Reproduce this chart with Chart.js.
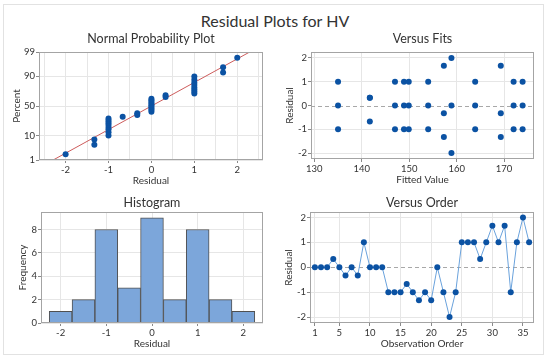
<!DOCTYPE html>
<html>
<head>
<meta charset="utf-8">
<script src="https://cdn.jsdelivr.net/npm/chart.js@4.4.1/dist/chart.umd.min.js"></script>
<style>
  body { margin: 0; background: #fff; font-family: Lato, sans-serif; }
  #wrap { position: relative; width: 550px; height: 361px; }
  #frame { position: absolute; left: 3px; top: 4px; width: 539px; height: 349px; border: 1px solid #e2e2e2; }
  #main { position: absolute; left: 0; top: 11px; width: 550px; text-align: center; font-size: 16px; line-height: 20px; color: #333; }
  canvas { position: absolute; }
</style>
</head>
<body>
<div id="wrap">
  <div id="frame"></div>
  <div id="main">Residual Plots for HV</div>
  <canvas id="c1" width="275" height="163" style="left:0;top:28px"></canvas>
  <canvas id="c2" width="275" height="162" style="left:275px;top:28px"></canvas>
  <canvas id="c3" width="275" height="166" style="left:0;top:188px"></canvas>
  <canvas id="c4" width="275" height="166" style="left:275px;top:188px"></canvas>
</div>
<script>
// residuals in observation order
const obsOrder = [1,2,3,4,5,6,7,8,9,10,11,12,13,14,15,16,17,18,19,20,21,22,23,24,25,26,27,28,29,30,31,32,33,34,35,36];
const orderResid = [0,0,0,0.33,0,-0.33,0,-0.33,1,0,0,0,-1,-1,-1,-0.67,-1,-1.33,-1,-1.33,0,-1,-2,-1,1,1,1,0.33,1,1.67,1,1.67,-1,1,2,1];

// versus fits
const fitValues = [135,135,135, 141.7,141.7,141.7, 147,147,147, 148.9,148.9,148.9, 149.9,149.9,149.9, 154,154,154,
                   157.3,157.3,157.3, 158.9,158.9,158.9, 163.9,163.9,163.9, 169.3,169.3,169.3, 172,172,172, 173.9,173.9,173.9];
const fitResid = [1,0,-1, 0.33,0.33,-0.67, 1,0,-1, 1,0,-1, 1,0,-1, 1,0,-1,
                  1.67,-0.33,-1.33, 2,0,-2, 1,0,-1, 1.67,-0.33,-1.33, 1,0,-1, 1,0,-1];

// normal probability plot (sorted residuals and percent)
const nppResid = [-2,-1.33,-1.33,-1,-1,-1,-1,-1,-1,-1,-1,-0.67,-0.33,-0.33,0,0,0,0,0,0,0,0,0,0.33,0.33,1,1,1,1,1,1,1,1,1.67,1.67,2];
const nppPercent = [1.9,4.7,7.4,10.2,12.9,15.7,18.4,21.2,23.9,26.6,29.4,32.1,34.9,37.6,40.4,43.1,45.9,48.6,
                    51.4,54.1,56.9,59.6,62.4,65.1,67.9,70.6,73.4,76.1,78.8,81.6,84.3,87.1,89.8,92.6,95.3,98.1];
const nppLineX = [-2.29, 2.29];
const nppLinePct = [1, 99];
const pctTicks = [1, 10, 50, 90, 99];

// histogram
const histCenters = [-2,-1.5,-1,-0.5,0,0.5,1,1.5,2];
const histFreq = [1,2,8,3,9,2,8,2,1];

const nppXTicks = [-2.5,-2,-1.5,-1,-0.5,0,0.5,1,1.5,2,2.5];
const fitXTicks = [130,140,150,160,170];
const residTicks = [-2,-1,0,1,2];
const histXTicks = [-2,-1,0,1,2];
const histYTicks = [0,2,4,6,8];
const orderXTicks = [1,5,10,15,20,25,30,35];

const dotBlue = '#0b52a3';
const txt = '#333';
const gridCol = '#e6e6e6';
const FONT = "Lato, sans-serif";

function probit(p) {
  const a=[-3.969683028665376e+01,2.209460984245205e+02,-2.759285104469687e+02,1.383577518672690e+02,-3.066479806614716e+01,2.506628277459239e+00];
  const b=[-5.447609879822406e+01,1.615858368580409e+02,-1.556989798598866e+02,6.680131188771972e+01,-1.328068155288572e+01];
  const c=[-7.784894002430293e-03,-3.223964580411365e-01,-2.400758277161838e+00,-2.549732539343734e+00,4.374664141464968e+00,2.938163982698783e+00];
  const d=[7.784695709041462e-03,3.224671290700398e-01,2.445134137142996e+00,3.754408661907416e+00];
  const pl = 0.02425;
  let q, r;
  if (p < pl) {
    q = Math.sqrt(-2*Math.log(p));
    return (((((c[0]*q+c[1])*q+c[2])*q+c[3])*q+c[4])*q+c[5])/((((d[0]*q+d[1])*q+d[2])*q+d[3])*q+1);
  }
  if (p > 1 - pl) {
    q = Math.sqrt(-2*Math.log(1-p));
    return -(((((c[0]*q+c[1])*q+c[2])*q+c[3])*q+c[4])*q+c[5])/((((d[0]*q+d[1])*q+d[2])*q+d[3])*q+1);
  }
  q = p - 0.5; r = q*q;
  return (((((a[0]*r+a[1])*r+a[2])*r+a[3])*r+a[4])*r+a[5])*q/(((((b[0]*r+b[1])*r+b[2])*r+b[3])*r+b[4])*r+1);
}
const z = pct => probit(pct / 100);

// plot box + dashed zero line
const boxPlugin = {
  id: 'box',
  beforeDatasetsDraw(chart, args, opts) {
    if (!opts.zeroLine) return;
    const ca = chart.chartArea, y = chart.scales.y.getPixelForValue(0);
    const g = chart.ctx;
    g.save();
    g.strokeStyle = '#a8a8a8';
    g.lineWidth = 1;
    g.setLineDash([4, 3]);
    g.beginPath();
    g.moveTo(ca.left, Math.round(y) + 0.5);
    g.lineTo(ca.right, Math.round(y) + 0.5);
    g.stroke();
    g.restore();
  },
  afterDraw(chart) {
    const ca = chart.chartArea, g = chart.ctx;
    g.save();
    g.strokeStyle = '#a4a4a4';
    g.lineWidth = 1;
    g.strokeRect(Math.round(ca.left) + 0.5, Math.round(ca.top) + 0.5, Math.round(ca.right - ca.left) - 1, Math.round(ca.bottom - ca.top) - 1);
    g.restore();
  }
};

function axis(opts) {
  return {
    type: 'linear',
    min: opts.min, max: opts.max,
    offset: false,
    border: { display: false },
    grid: {
      offset: false,
      color: opts.gridColor || gridCol,
      tickLength: 3,
      tickColor: ctx => (ctx.tick && ctx.tick.label === '') ? 'rgba(0,0,0,0)' : '#8a8a8a'
    },
    ticks: {
      color: txt, font: { family: FONT, size: 9.5 },
      padding: 1, autoSkip: false, maxRotation: 0,
      callback: opts.label
    },
    title: { display: true, text: opts.title, color: txt, font: { family: FONT, size: 10 }, padding: opts.titlePad },
    afterBuildTicks: s => { s.ticks = opts.ticks.map(v => ({ value: v })); },
    afterFit: opts.fit
  };
}

function panel(id, g, type, datasets, xo, yo, zeroLine) {
  new Chart(document.getElementById(id), {
    type: type,
    data: { datasets: datasets },
    options: {
      responsive: false,
      animation: false,
      layout: { padding: { left: g.padL, right: g.padR, top: 0, bottom: 0 } },
      plugins: {
        legend: { display: false },
        tooltip: { enabled: false },
        title: { display: true, text: g.title, fullSize: false, color: txt, font: { family: FONT, size: 12.5, weight: 'normal' }, padding: g.titlePad },
        box: { zeroLine: zeroLine }
      },
      scales: {
        x: axis(Object.assign({ titlePad: { top: 0, bottom: 4 }, fit: s => { s.height = 31; } }, xo)),
        y: axis(Object.assign({ titlePad: { top: 6, bottom: 0 }, fit: s => { s.width = g.yW; } }, yo))
      }
    },
    plugins: [boxPlugin]
  });
}

const topPad = { top: 3, bottom: 6 };
const botPad = { top: 7, bottom: 2 };

// Normal probability plot
panel('c1', { title: 'Normal Probability Plot', padL: 5, padR: 12, yW: 34, titlePad: topPad }, 'scatter', [
  { data: nppResid.map((r, i) => ({ x: r, y: z(nppPercent[i]) })), backgroundColor: dotBlue, borderColor: dotBlue, pointRadius: 3, pointBorderWidth: 0 },
  { type: 'line', data: nppLineX.map((r, i) => ({ x: r, y: z(nppLinePct[i]) })), borderColor: '#cd5c5c', borderWidth: 1, pointRadius: 0, fill: false }
], { min: -2.62, max: 2.6, ticks: nppXTicks, title: 'Residual', label: v => Number.isInteger(v) ? String(v) : '' },
   { min: z(1), max: z(99), ticks: pctTicks.map(z), title: 'Percent', label: (v, i) => String(pctTicks[i]) }, false);

// Versus fits
panel('c2', { title: 'Versus Fits', padL: 3, padR: 16, yW: 33, titlePad: topPad }, 'scatter', [
  { data: fitValues.map((f, i) => ({ x: f, y: fitResid[i] })), backgroundColor: dotBlue, borderColor: dotBlue, pointRadius: 3, pointBorderWidth: 0 }
], { min: 129.3, max: 176.3, ticks: fitXTicks, title: 'Fitted Value', label: v => String(v) },
   { min: -2.25, max: 2.25, ticks: residTicks, title: 'Residual', label: v => String(v),
     gridColor: ctx => ctx.tick && ctx.tick.value === 0 ? 'rgba(0,0,0,0)' : gridCol }, true);

// Histogram
panel('c3', { title: 'Histogram', padL: 11, padR: 12, yW: 30, titlePad: botPad }, 'bar', [
  { data: histCenters.map((c, i) => ({ x: c, y: histFreq[i] })), backgroundColor: '#7ca6da', borderColor: '#505050', borderWidth: 1,
    barPercentage: 1, categoryPercentage: 1 }
], { min: -2.43, max: 2.43, ticks: histXTicks, title: 'Residual', label: v => String(v) },
   { min: 0, max: 9.5, ticks: histYTicks, title: 'Frequency', label: v => String(v) }, false);

// Versus order
panel('c4', { title: 'Versus Order', padL: 2, padR: 16, yW: 33, titlePad: botPad }, 'line', [
  { data: obsOrder.map((o, i) => ({ x: o, y: orderResid[i] })), borderColor: '#6aa2dc', borderWidth: 1, backgroundColor: dotBlue,
    pointBackgroundColor: dotBlue, pointBorderWidth: 0, pointRadius: 3, tension: 0, fill: false }
], { min: 0.2, max: 36.8, ticks: orderXTicks, title: 'Observation Order', label: v => String(v) },
   { min: -2.24, max: 2.22, ticks: residTicks, title: 'Residual', label: v => String(v),
     gridColor: ctx => ctx.tick && ctx.tick.value === 0 ? 'rgba(0,0,0,0)' : gridCol }, true);
</script>
</body>
</html>
